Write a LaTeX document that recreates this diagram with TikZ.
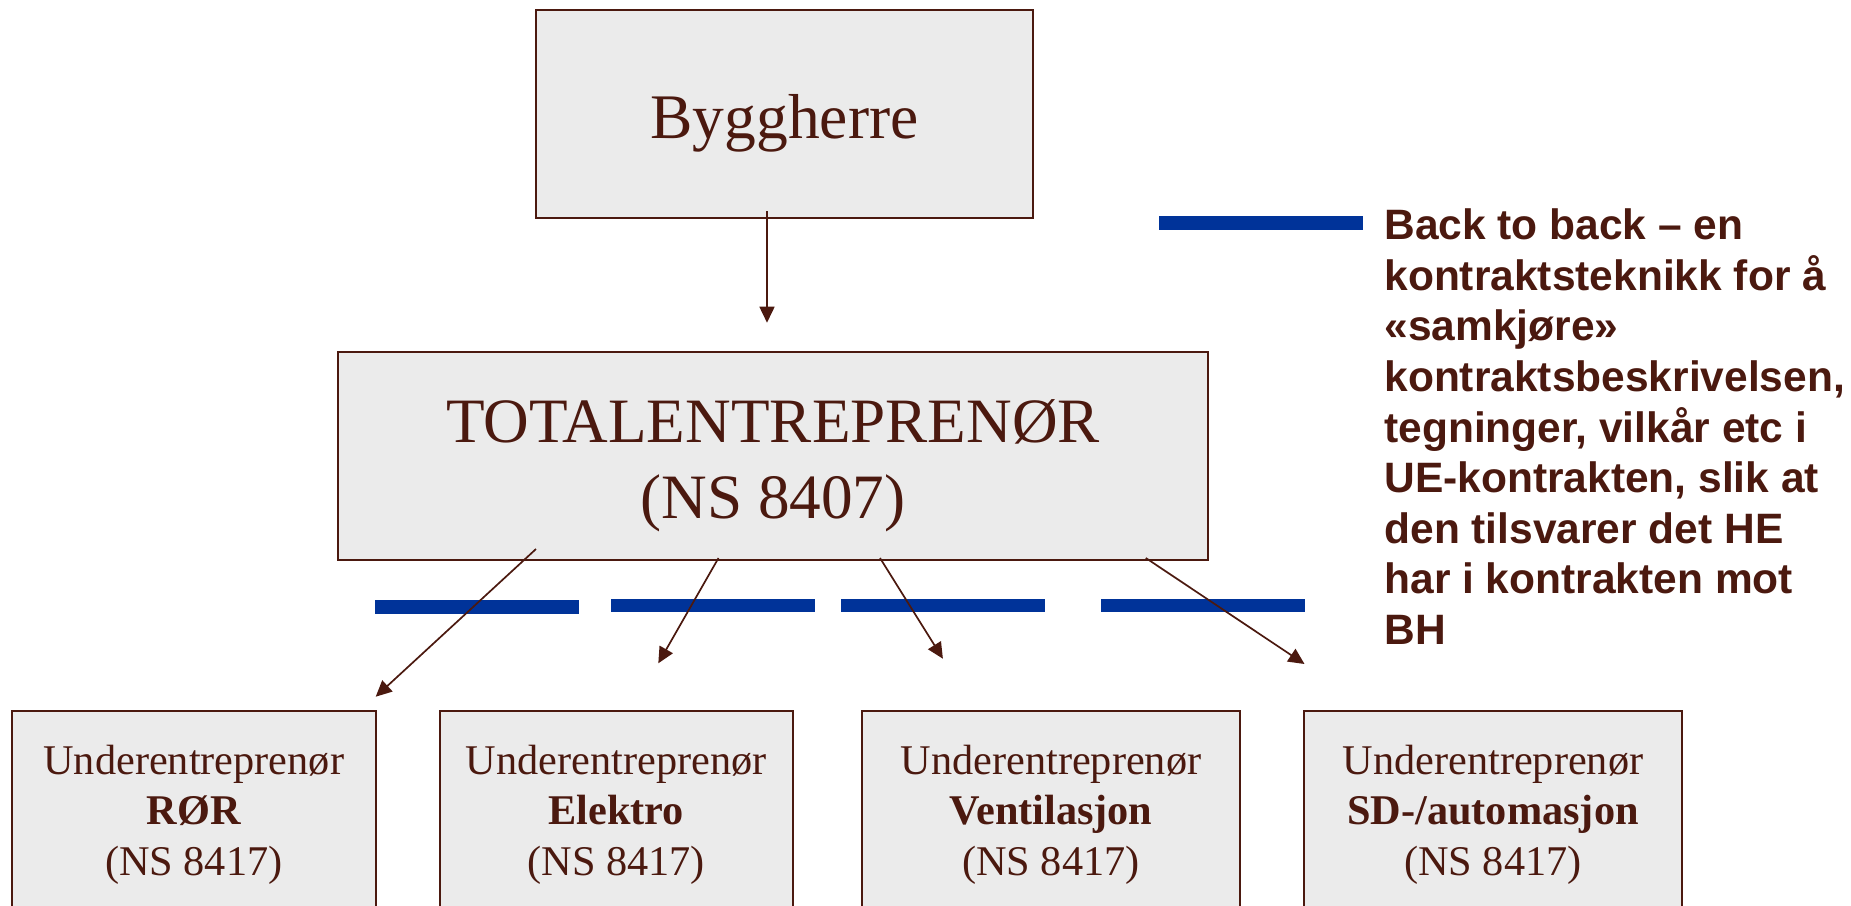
\documentclass[tikz,border=0pt]{standalone}
\usepackage{fontspec}
\setmainfont{Liberation Serif}
\newfontfamily\sidefont{Liberation Sans}
\usetikzlibrary{arrows.meta}
\definecolor{brun}{RGB}{75,25,15}
\definecolor{lysgraa}{RGB}{235,235,235}
\definecolor{blaa}{RGB}{0,51,153}

\begin{document}
\begin{tikzpicture}[x=0.5pt,y=-0.5pt,
    boks/.style={draw=brun, line width=1pt, fill=lysgraa, text=brun, inner sep=0pt, minimum height=104pt},
    pil/.style={draw=brun, line width=0.85pt, -{Triangle[length=8pt,width=7.5pt]}},
    strek/.style={draw=blaa, line width=6.8pt}]
        \useasboundingbox (0,0) rectangle (1851,905);
        \clip (0,0) rectangle (1851,905);
        % boksene
        \node[boks, minimum width=248.5pt, font=\fontsize{31.75pt}{38pt}\selectfont,
              text height=24pt, text depth=0pt] (bh) at (784.5,114) {Byggherre};
        \node[boks, minimum width=435pt, align=center, font=\fontsize{31.6pt}{38pt}\selectfont]
              (te) at (773,456) {\rule{0pt}{32pt}TOTALENTREPRENØR\\(NS 8407)\rule[-8pt]{0pt}{0pt}};
        \foreach \i/\x/\w/\fag in {1/193.75/181.75pt/RØR, 2/616.25/176.25pt/Elektro,
                                  3/1051/189pt/Ventilasjon, 4/1493/189pt/{SD-/automasjon}}
        {   \node[boks, minimum width=\w, align=center, font=\fontsize{21.15pt}{25.25pt}\selectfont]
                  (ue\i) at (\x,815) {\rule{0pt}{15.5pt}Underentreprenør\\\textbf{\fag}\\(NS 8417)\rule[-6pt]{0pt}{0pt}};
        }
        % back to back
        \draw[strek] (1159,223) -- (1363,223);
        \draw[strek] (375,607) -- (579,607);
        \foreach \x in {611,841,1101}
        {   \draw[strek] (\x,605.5) -- (\x+203.5,605.5);
        }
        \node[anchor=north west, inner sep=0pt, align=left, text=brun,
              font=\sidefont\bfseries\fontsize{21.25pt}{25.3pt}\selectfont] (tekst) at (1384,205.3)
              {\rule{0pt}{17pt}Back to back – en\\kontraktsteknikk for å\\«samkjøre»\\kontraktsbeskrivelsen,\\tegninger, vilkår etc i\\UE-kontrakten, slik at\\den tilsvarer det HE\\har i kontrakten mot\\BH};
        % pilene
        \coordinate (bh-ut) at (767,211);
        \coordinate (te-inn) at (767,322.7);
        \coordinate (te-ut1) at (536,549);
        \coordinate (te-ut2) at (718.5,558);
        \coordinate (te-ut3) at (880,558);
        \coordinate (te-ut4) at (1145.8,558);
        \coordinate (ue-inn1) at (375.7,696.7);
        \coordinate (ue-inn2) at (658.3,663.3);
        \coordinate (ue-inn3) at (942.9,658.7);
        \coordinate (ue-inn4) at (1304.5,664);
        \draw[pil] (bh-ut) -- (te-inn);
        \foreach \i in {1,...,4}
        {   \draw[pil] (te-ut\i) -- (ue-inn\i);
        }
      \end{tikzpicture}
\end{document}
